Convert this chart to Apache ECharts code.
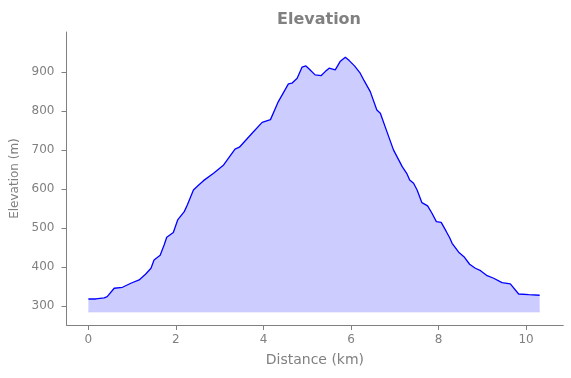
<!DOCTYPE html>
<html>
<head>
<meta charset="utf-8">
<script src="https://cdn.jsdelivr.net/npm/echarts@6/dist/echarts.min.js"></script>
<style>html,body{margin:0;padding:0;background:#fff}#c{width:571px;height:378px}</style>
</head>
<body>
<div id="c"></div>
<script>
const distKm = [0,0.17,0.36,0.43,0.59,0.78,0.97,1.16,1.31,1.43,1.50,1.64,1.73,1.79,1.94,2.04,2.19,2.26,2.40,2.52,2.63,2.86,3.09,3.35,3.45,3.74,3.97,4.16,4.34,4.57,4.65,4.77,4.88,4.97,5.05,5.18,5.32,5.41,5.50,5.64,5.75,5.87,5.96,6.08,6.21,6.30,6.44,6.59,6.67,6.82,6.97,7.17,7.28,7.34,7.43,7.51,7.62,7.75,7.85,7.95,8.06,8.17,8.26,8.31,8.46,8.58,8.71,8.84,8.96,9.11,9.26,9.45,9.64,9.83,10.06,10.31];
const elevM = [318.7,318.7,321.3,324.6,346.2,348.7,359,367.4,382.8,397.4,418.7,430.8,457.2,476.9,489.2,521.3,542.6,559.7,598.2,611,622,641,662.3,702.6,707.7,743.6,771.3,778.4,824.6,870,871.8,884.6,912.8,916.1,907.7,893,891.3,901.5,910.2,905.9,927.2,938.4,929.7,916.1,897.4,878.2,850.2,803.3,794.8,747.7,700.8,657.9,639.2,623.8,615.4,598.2,565.6,557.2,538.4,516.9,514.9,493.1,474.4,461.5,438.5,427.2,407.7,397.4,391.3,378.5,371.8,360.5,357.2,331.5,329.7,328.2];
const fillBase = 286;
const xTicks = [0,2,4,6,8,10];
const yTicks = [300,400,500,600,700,800,900];
const titleText = 'Elevation';
const xName = 'Distance (km)';
const yName = 'Elevation (m)';

const pts = distKm.map((d,i)=>[d, elevM[i]]);
const gray = '#808080';
const font = 'DejaVu Sans';
const chart = echarts.init(document.getElementById('c'), null, {renderer:'canvas'});
chart.setOption({
  animation:false,
  backgroundColor:'#fff',
  title:{text:titleText,left:314,top:7,textAlign:'center',
    textStyle:{fontFamily:font,fontSize:16,fontWeight:'bold',color:gray}},
  grid:{left:66.5,right:7.7,top:32,bottom:53,containLabel:false},
  xAxis:{type:'value',min:-0.5,max:10.85,
    name:xName,nameLocation:'middle',nameGap:28,
    nameTextStyle:{fontFamily:font,fontSize:14,color:gray},
    axisLine:{show:true,onZero:false,lineStyle:{color:gray,width:1}},
    axisTick:{show:true,length:5,customValues:xTicks,lineStyle:{color:gray}},
    axisLabel:{customValues:xTicks,margin:9,fontFamily:font,fontSize:12,color:gray},
    splitLine:{show:false}},
  yAxis:{type:'value',min:252,max:1003,
    name:yName,nameLocation:'middle',nameGap:42,
    nameTextStyle:{fontFamily:font,fontSize:12,color:gray},
    axisLine:{show:true,onZero:false,lineStyle:{color:gray,width:1}},
    axisTick:{show:true,length:5,customValues:yTicks,lineStyle:{color:gray}},
    axisLabel:{customValues:yTicks,margin:12,fontFamily:font,fontSize:12,color:gray},
    splitLine:{show:false}},
  series:[
    {type:'line',data:pts,showSymbol:false,symbol:'none',
     lineStyle:{color:'#0000ff',width:1.3},itemStyle:{color:'#0000ff'},
     areaStyle:{color:'#ccccff',opacity:1,origin:fillBase},z:3},
    {type:'line',data:[[distKm[0],fillBase],[distKm[distKm.length-1],fillBase]],showSymbol:false,symbol:'none',
     lineStyle:{color:'#b8b8ff',width:1},silent:true,z:2}
  ]
});
</script>
</body>
</html>
